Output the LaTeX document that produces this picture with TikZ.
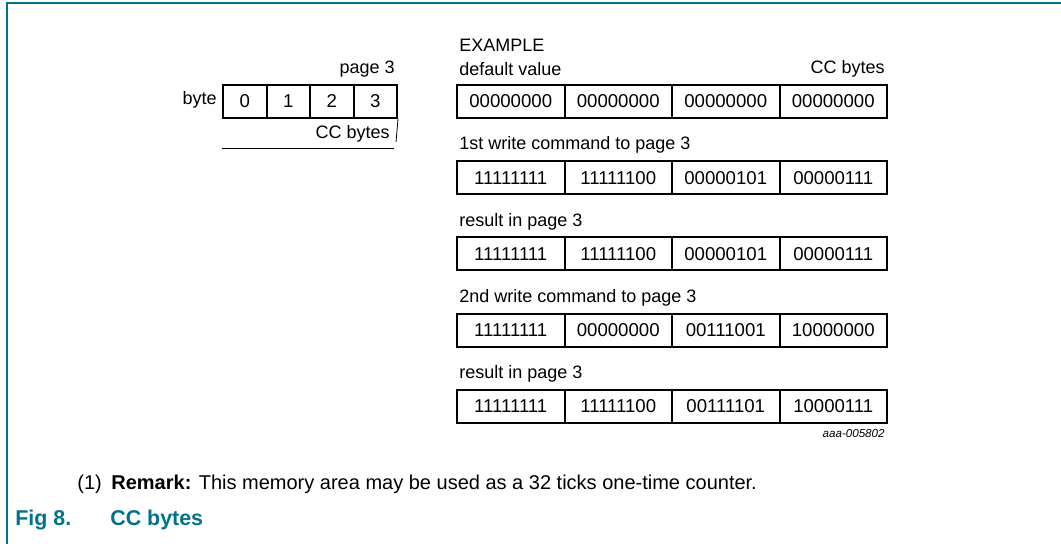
\documentclass[tikz,border=0pt]{standalone}
\usepackage{fontspec}
\setmainfont{Liberation Sans}
\definecolor{nxpteal}{RGB}{0,115,140}
\begin{document}
\begin{tikzpicture}
  [x=0.5pt,y=-0.5pt,
    txt/.style={font=\fontsize{9}{11}\selectfont, inner sep=0pt},
    cell/.style={draw, line width=1pt, minimum width=53.75pt,
    minimum height=16.5pt, inner sep=0pt, anchor=north west,
    font=\fontsize{9.3}{11}\selectfont},
    bytecell/.style={cell, minimum width=21.75pt},
    caption/.style={font=\fontsize{10.7}{13}\selectfont\bfseries,
    text=nxpteal, inner sep=0pt, anchor=west}]
  \useasboundingbox (0,0) rectangle (1061,544);
  \draw[nxpteal, line width=1pt] (7,544) -- (7,3.5) -- (1061,3.5);
  % page 3 layout
  \node[txt, anchor=east] (page) at (395,69) {page 3};
  \foreach \v in {0,...,3}
    \node[bytecell] (b\v) at (222+43.5*\v,84) {\v};
  \node[txt, anchor=east] (byte) at (217,100) {byte};
  \node[txt, anchor=east] (ccleft) at (390,134) {CC bytes};
  \coordinate (bend) at (396,142);
  \coordinate (lstart) at (222,148);
  \coordinate (lend) at (394,148);
  \draw (b3.south east) -- (bend);
  \draw (lstart) -- (lend);
  % example rows
  \node[txt, anchor=west] (example) at (459,45) {EXAMPLE};
  \node[txt, anchor=east] (ccright) at (885,69) {CC bytes};
  \foreach \t/\a/\b/\c/\d [count=\i from 0] in
    {default value/00000000/00000000/00000000/00000000,
     1st write command to page 3/11111111/11111100/00000101/00000111,
     result in page 3/11111111/11111100/00000101/00000111,
     2nd write command to page 3/11111111/00000000/00111001/10000000,
     result in page 3/11111111/11111100/00111101/10000111} {
    \node[txt, anchor=west] (t\i) at (459,69+76.25*\i) {\t};
    \foreach \v [count=\k from 0] in {\a,\b,\c,\d}
      \node[cell] (c\i-\k) at (456+107.5*\k,84+76.25*\i) {\v};
  }
  \node[txt, anchor=east, font=\fontsize{5.8}{7}\selectfont\itshape]
    (code) at (885,434) {aaa-005802};
  % remark and caption
  \node[txt, anchor=west, font=\fontsize{10}{12}\selectfont] (num) at (77,484) {(1)};
  \node[txt, anchor=west, font=\fontsize{10}{12}\selectfont] (remark) at (111,484)
    {\textbf{Remark:} This memory area may be used as a 32 ticks one-time counter.};
  \node[caption] (fig) at (15,520) {Fig 8.};
  \node[caption] (title) at (110,520) {CC bytes};
\end{tikzpicture}
\end{document}
